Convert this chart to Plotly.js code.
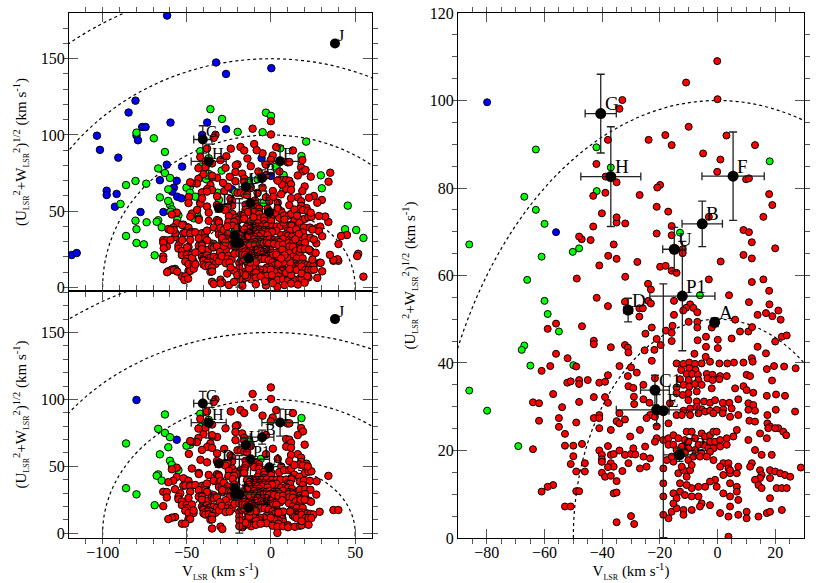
<!DOCTYPE html>
<html>
<head>
<meta charset="utf-8">
<script src="https://cdn.plot.ly/plotly-3.0.1.min.js"></script>
<style>
  html, body { margin: 0; padding: 0; background: #fff; }
  #plot { width: 830px; height: 583px; }
</style>
</head>
<body>
<div id="plot"></div>
<script>
// [V_LSR, (U^2+W^2)^1/2] in km/s
// sample shown in the lower-left and right panels
var sampleRed = [
  [-33.0,100.1],[-34.0,98.1],[-38.0,91.0],[-42.0,85.5],[-38.8,82.6],[-35.0,81.3],
  [-0.1,109.0],[-10.9,104.1],[0.0,100.3],[-10.0,94.0],[-23.9,91.0],[-18.1,92.1],[-15.9,89.8],[3.1,92.0],[13.0,89.8],[-5.0,87.9],[1.0,86.5],[-0.1,83.7],[9.9,82.0],[10.9,82.2],[-19.9,80.7],[-20.9,80.1],
  [17.9,78.6],[19.0,76.1],[15.9,73.4],[20.0,66.2],[9.0,70.4],[10.9,69.9],[11.9,67.6],[9.0,64.7],[11.9,63.9],[1.1,63.2],[-3.0,59.1],[15.9,59.1],[11.9,58.5],[17.9,56.5],[4.0,55.5],
  [-27.0,78.4],[-21.1,75.7],[-17.1,74.6],[-15.9,71.3],[-15.9,69.2],[-21.1,69.6],[-32.0,71.9],[-35.0,72.1],[-35.0,73.3],[-36.0,67.1],[-40.1,74.2],[-43.1,71.2],[-44.0,68.1],[-47.1,68.3],[-48.0,68.9],[-37.9,64.5],[-35.0,63.8],[-41.0,62.3],[-27.8,63.1],[-32.0,59.7],[-48.8,59.3],[-19.9,62.0],[-18.0,62.2],[-15.9,61.1],[-14.2,60.6],[-24.1,58.1],[-23.1,56.8],[-41.9,54.9],
  [-38.9,78.9],[-43.1,78.2],[-12.1,66.0],[-12.1,65.1],[-3.0,73.4],
  [-38.0,53.0],[-32.1,54.0],[-56.0,49.0],[-58.9,47.8],[-47.0,48.4],[-42.9,45.1],[-42.9,44.3],[-37.0,43.6],[-32.1,44.1],[-31.1,43.5],[-30.9,42.4],[-56.0,42.1],[-52.0,41.1],
  [-24.0,54.2],[-23.1,53.6],[-15.1,54.2],[-27.1,52.5],[-25.9,52.5],[-27.1,50.6],[-9.5,53.4],[-10.9,52.6],[-8.4,52.6],[-7.0,51.6],[-11.9,52.0],[-15.1,51.0],[-10.0,49.4],[-7.0,49.4],[-7.0,48.1],[-2.0,48.1],[6.1,49.9],[-17.9,47.4],[-15.6,48.5],[-22.8,48.1],[-25.0,46.7],[-21.1,45.5],[-19.7,44.1],[-15.9,46.9],[-15.9,45.0],[-6.9,45.2],[-4.0,46.0],[0.1,45.3],[0.1,43.4],[4.9,45.6],[7.8,47.2],[10.7,47.2],[12.0,48.2],[20.0,44.9],[22.3,46.0],[24.0,46.3],[13.9,43.7],[16.8,42.2],[11.9,41.1],[-25.3,42.9],[-21.9,43.0],[-4.0,43.7],[-4.1,41.4],[-8.0,42.1],[10.9,53.9],[18.0,53.4],[16.8,51.4],[21.1,52.0],[19.0,50.7],[21.9,49.9],[13.9,51.0],[27.1,38.8],
  [-58.0,39.3],[-61.0,38.2],[-49.0,39.2],[-52.1,35.5],[-50.9,35.8],[-48.0,36.1],[-48.0,35.2],[-45.0,36.1],[-41.0,35.5],[-39.0,35.7],[-38.0,37.2],[-34.0,39.3],[-31.1,37.0],[-30.0,39.0],[-30.9,34.7],[-29.2,34.3],[-57.0,32.9],[-64.0,31.0],[-61.9,30.8],[-53.9,29.9],[-48.0,31.1],[-42.9,32.2],[-39.0,32.2],[-38.0,30.9],[-28.9,30.6],[-61.9,26.8],[-55.0,27.4],[-55.0,25.4],[-49.0,26.4],[-42.9,27.4],[-41.0,28.1],[-41.0,27.4],
  [-41.0,25.1],[-37.0,24.7],[-34.0,28.5],[-35.0,26.7],[-34.0,26.2],[-32.1,27.1],[-52.9,23.8],[-64.0,20.3],[-52.9,21.1],[-50.0,21.1],[-47.0,21.5],[-50.0,18.7],[-50.9,16.9],[-49.0,15.2],[-46.0,15.2],[-46.0,17.1],
  [-41.0,20.0],[-40.1,19.0],[-38.0,21.0],[-37.0,19.0],[-36.0,19.2],[-34.0,20.0],[-32.1,19.0],[-30.0,19.2],[-28.5,19.1],
  [-40.1,18.0],[-40.1,17.4],[-37.0,17.1],[-36.0,16.3],[-38.0,16.2],[-40.1,14.9],[-39.0,14.0],[-37.0,14.2],[-33.0,15.3],[-30.9,17.1],[-35.0,13.0],[-57.0,12.1],[-58.9,11.7],[-61.0,10.6],[-49.0,10.7],[-48.0,10.7],[-36.0,10.2],[-35.0,10.4],[-52.9,7.2],[-50.9,7.2],[-35.0,3.6],[-30.0,5.0],[-28.9,3.2],
  [-22.8,40.5],[-14.2,39.9],[-11.8,39.8],[-9.8,40.1],[-7.8,39.8],[-5.5,39.9],[-2.6,40.3],[0.65,39.9],[3.4,39.9],[5.7,40.1],[9.0,40.1],[12.2,40.3],[17.1,38.6],[19.6,39.3],[23.1,39.2],
  [-12.6,38.4],[-9.8,38.8],[-7.6,38.4],[-10.7,37.5],[-8.8,37.5],[-6.8,37.3],[-3.75,37.5],[-1.7,37.3],[0.9,37.0],[3.2,37.0],[10.1,37.3],[11.3,37.0],[18.9,36.0],
  [-28.0,37.8],[-21.7,36.5],[-13.0,36.3],[-10.0,36.1],[-6.6,36.1],[-3.5,36.5],[-1.7,36.1],[0.65,36.3],[6.1,34.2],[9.0,34.7],[10.1,33.8],[12.4,33.2],
  [-25.7,35.0],[-14.2,34.4],[-11.8,35.0],[-9.8,34.6],[-7.8,35.2],[-5.5,35.0],[-2.0,34.2],[-7.2,33.5],[-10.1,33.1],[-12.1,32.7],[-14.2,33.1],[-25.7,31.7],[-23.6,30.9],[-16.5,30.8],[-10.1,31.5],[-7.2,31.2],[-4.7,31.2],[-2.6,30.9],[-0.86,31.5],[1.8,30.9],[4.1,30.9],[7.2,31.7],[10.7,30.8],[12.4,30.4],[17.1,32.5],[20.3,32.8],[23.4,32.5],[26.9,28.9],[4.9,29.6],[2.0,29.4],[-0.28,29.3],[-5.5,29.4],[-7.2,30.0],[-9.5,29.6],[-11.8,29.1],[-14.2,28.1],[-12.4,28.1],[-9.5,28.1],[-6.6,28.5],[-4.3,28.9],[-2.6,29.1],[-1.4,28.5],[1.8,28.5],[4.35,27.7],[7.2,28.1],[10.7,29.3],[13.0,29.1],[11.05,26.8],[13.0,26.6],[17.3,28.1],[20.2,29.3],[17.3,26.2],[18.2,25.5],[21.1,25.1],[22.8,24.3],[23.8,23.5],[-29.0,32.3],
  [-23.4,28.1],[-24.6,27.4],[-21.7,27.7],[-17.0,26.2],[-21.1,25.5],[-26.9,24.7],[-30.3,23.2],[-29.2,20.5],[-25.1,20.9],[-25.7,18.6],[-23.4,18.2],[-26.9,15.9],[-24.6,16.3],[-21.1,22.8],[-21.7,22.0],[-18.8,22.4],[-17.0,22.8],[-15.3,23.5],[-13.6,22.8],[-10.7,24.3],[-8.95,24.3],[-11.3,22.4],[-10.1,22.0],[-7.8,22.8],[-5.5,23.9],[-4.3,23.2],[-2.6,23.5],[-1.4,24.3],[-0.28,24.3],[-2.6,22.0],[-0.86,22.0],[0.9,22.4],[3.2,22.8],[5.5,23.2],[-6.6,21.3],[-4.9,21.3],[-3.2,20.5],[-1.4,20.5],[0.9,20.9],[3.2,21.3],[-7.8,20.1],[-5.5,19.4],[-2.6,19.7],[-12.4,20.9],[-10.1,20.5],[-11.3,19.4],[-8.4,18.6],[-6.1,18.6],[-3.75,18.6],[-1.4,17.8],[2.0,17.1],[3.8,17.1],[0.9,16.3],[3.8,15.9],[2.0,14.4],[4.35,14.8],[6.7,14.8],[-0.86,13.3],[-2.6,12.9],[4.35,12.5],[6.7,11.7],[6.7,10.6],[7.2,8.7],[4.35,9.5],[2.0,10.2],[-0.28,11.7],[-4.3,11.7],[-6.6,11.7],[-8.95,11.4],[-10.7,12.1],[-13.0,10.6],[-15.3,10.2],[-11.3,9.8],[-14.2,9.1],[-6.6,9.5],[-5.5,7.9],[-8.95,9.5],[-2.6,7.5],[4.35,7.2],[0.9,5.7],[3.8,4.9],[7.2,5.3],[10.1,6.0],[10.1,4.5],[14.2,4.9],[17.1,5.7],[18.2,6.0],[22.3,6.4],[-11.8,6.4],[-11.8,5.3],[-8.95,6.4],[-17.0,4.5],[-15.9,6.0],[-14.2,6.8],[-6.1,7.2],[-15.3,7.9],[-18.8,15.9],[-18.8,12.5],[-18.8,9.5],[-18.8,5.3],[-13.6,14.8],[-11.8,15.5],[-9.5,15.5],[-10.7,14.0],[-13.0,12.5],[-10.1,17.8],[-8.95,16.7],[-12.4,16.3],[-15.3,17.45],[-17.6,17.8],[-15.9,18.6],[-17.0,21.3],[-15.3,21.3],[-14.2,20.1],
  [6.7,24.7],[10.7,22.4],[14.75,23.9],[17.1,22.8],[17.6,25.1],[20.0,25.1],[13.0,20.1],[15.3,19.0],[18.8,19.0],[11.9,17.1],[14.75,15.5],[15.3,14.4],[14.75,13.7],[13.0,13.3],[14.2,12.1],[15.3,11.4],[18.2,15.5],[20.0,15.2],[21.7,14.8],[23.4,14.4],[25.2,14.0],[18.2,13.7],[20.5,11.4],[22.3,11.4],[24.0,11.4],[18.2,9.1],[28.9,16.1],[11.3,16.3],[7.2,16.3],[4.35,15.5],[3.8,0.3],
  [34.1,42.9],[37.1,17.4],[40.0,17.4]
];
var sampleGreen = [
  [-63.0,88.8],[-42.0,89.3],[-37.0,84.7],[18.1,86.1],[-41.9,79.3],[-13.0,69.8],[-48.0,66.2],[-50.2,65.4],[-6.1,55.5],
  [-67.0,78.0],[-63.0,75.0],[-60.0,71.8],[-86.1,67.1],[-61.0,64.3],[-66.0,59.0],[-60.0,54.2],[-58.9,51.2],[-55.0,47.2],
  [-67.0,44.0],[-67.9,43.0],[-64.9,39.4],[-50.0,39.5],[-86.1,33.7],[-79.9,29.1],[-69.1,21.0]
];
var sampleBlue = [[-79.9,99.6],[-56.0,69.9]];

// stars that appear only in the full sample (upper-left panel)
var extraRed = [
  [54.9,7.0],[51.8,22.0],[51.2,20.5],[45.1,34.3],[41.6,33.6],[40.1,28.4],[39.5,18.4],[37.1,18.0],[35.0,21.3],[35.2,75.2],[34.2,69.3],[32.2,46.4],[29.2,39.8],[30.2,57.3],
  [25.5,59.9],[27.5,55.5],[23.6,49.0],[28.5,46.8],[24.6,37.9],[28.5,36.8],[25.5,31.4],[30.4,33.5],[22.6,24.8],[26.5,22.6],[24.6,18.2],[29.5,16.1],
  [25.5,11.6],[30.4,10.5],[21.6,7.3],[27.5,6.2],[18.6,63.2],[22.6,58.8],[20.5,77.0],[23.6,72.6],[18.6,83.5],
  [-64.0,29.3],[-63.7,25.6],[-64.0,18.4],[-61.7,9.9],[-57.7,11.4],[-55.7,10.3],[-51.4,4.8],[-49.2,5.7],[-45.9,12.2],[-44.9,15.1],[-46.9,19.4],[-44.9,22.9],
  [-49.9,26.2],[-52.8,31.1],[-56.8,35.5],[-57.7,37.6],[-59.7,31.1],[-59.7,37.6],[-52.8,40.9],[-47.9,46.4],[-43.9,50.8],[-41.0,58.4],[-38.0,62.8],[-49.0,55.3],[-37.0,49.0],
  [-30.0,2.6],[-34.0,2.2],[-25.0,1.5],[-22.0,3.5],[-17.0,1.0],[-9.0,2.0],[-3.0,1.2],[1.0,2.8],[8.0,1.5],[12.0,2.5],[16.0,1.8],[20.0,3.0],
  [-26.0,9.0],[-22.0,11.0],[-24.0,13.0],[-20.0,8.0],[-3.5,4.0],[0.5,8.0],[9.0,9.5],[12.0,8.0],[11.0,12.0],[9.5,19.5],[8.0,21.0],[6.0,19.0],
  [-28.0,27.0],[-27.0,29.5],[-19.5,33.0],[-18.0,36.5],[-16.0,38.0],[-20.0,39.0],[-26.0,40.0],[-12.0,43.5],[-10.5,46.0],[-13.5,49.5],[-2.0,51.5],[2.5,49.0],[4.0,52.0],
  [7.5,42.5],[8.0,44.5],[15.5,47.0],[15.0,38.0],[16.5,35.0],[14.5,31.5],[-1.0,56.5],[1.5,59.5],[6.0,61.0],[6.5,67.5],[4.0,70.0],[-8.0,62.0],[-9.5,57.0],
  [-5.0,65.5],[-7.5,76.0],[-12.0,79.5],[-3.0,80.5],[5.0,76.0],[-25.5,66.0],[-28.5,68.5],[-24.5,72.5],[-30.0,83.5],[-26.5,86.0],[-14.0,84.5],[-8.5,90.0]
];
var extraGreen = [
  [-36.0,116.9],[-29.1,110.5],[-3.0,114.6],[0.0,112.5],[-19.8,102.0],[-5.0,101.8],[-79.9,101.5],[-69.6,97.8],[20.9,95.6],[5.5,91.2],
  [-29.3,76.6],[-37.0,74.4],[-41.5,72.0],[-38.5,70.9],[-42.1,55.5],[-31.7,62.1],[-30.9,57.3],[-7.9,70.9],[-2.8,73.7],[2.8,79.2],[-4.4,55.5],
  [7.5,73.7],[29.6,73.5],[30.2,65.0],[45.6,53.6],[44.0,38.1],[50.6,37.6],[54.9,32.4],[7.3,63.4],[-21.2,62.4],
  [-80.5,69.8],[-74.1,68.0],[-89.4,54.7],[-80.5,43.7],[-79.9,38.1],[-73.9,42.7],[-75.5,28.2],[-61.1,56.7],[-59.7,49.6],[-55.7,44.2],
  [-48.2,62.1],[-44.9,59.5],[-45.9,45.3],[-43.9,47.5],[-46.2,36.1]
];
var extraBlue = [
  [-61.7,178.3],[-32.6,147.5],[-26.7,140.0],[0.2,143.8],[-80.5,122.5],[-84.6,114.7],[-103.4,99.5],[-101.6,90.2],[-79.0,96.5],[-90.7,85.1],
  [-76.5,105.2],[-74.5,105.2],[-59.7,108.1],[-40.9,100.0],[-37.9,108.1],[-26.7,103.7],[-61.9,80.5],[-52.8,79.2],[-66.0,70.3],
  [-57.7,65.4],[-58.7,62.8],[-55.7,59.5],[-53.2,58.4],[-97.6,63.4],[-97.6,60.6],[-91.7,61.3],[-92.7,52.9],[-77.5,49.4],
  [-118.4,21.2],[-115.4,22.5],[-63.9,49.4],[0.0,73.1],[-5.6,84.7],[-23.1,64.3]
];

// moving groups: name, V, (U^2+W^2)^1/2, errors
var groupNames = ['G', 'H', 'F', 'B', 'U', 'P1', 'D', 'A', 'C1', '', 'E', 'C2', 'J'];
var groupV     = [-40.5, -37.0, 5.4, -5.3, -15.0, -12.2, -31.0, -1.0, -21.7, -21.1, -18.8, -13.2, 38.0];
var groupY     = [97.0, 82.6, 82.7, 71.8, 66.0, 55.3, 52.1, 49.3, 33.8, 29.3, 29.1, 19.0, 160.0];
var groupErrV  = [5.4, 10.4, 10.8, 7.0, 4.0, 11.3, 1.5, 1.0, 5.0, 14.0, 2.0, 5.5, 0];
var groupErrY  = [9.0, 11.4, 10.1, 5.2, 5.0, 12.5, 2.7, 1.0, 3.4, 3.5, 29.0, 1.5, 0];

var circleRadii = [50, 100, 150, 200];

var FONT = '"Liberation Serif", "Times New Roman", serif';
var col = function (pts, k) { return pts.map(function (p) { return p[k]; }); };

function stars(pts, color, xa, ya, size) {
  return {
    x: col(pts, 0), y: col(pts, 1), xaxis: xa, yaxis: ya,
    mode: 'markers', type: 'scatter', hoverinfo: 'skip',
    marker: { color: color, size: size, line: { color: 'black', width: 1 } }
  };
}

function groups(xa, ya, size) {
  return {
    x: groupV, y: groupY, xaxis: xa, yaxis: ya,
    mode: 'markers', type: 'scatter', hoverinfo: 'skip',
    marker: { color: 'black', size: size },
    error_x: { type: 'data', array: groupErrV, color: '#222', thickness: 1.3, width: 4 },
    error_y: { type: 'data', array: groupErrY, color: '#222', thickness: 1.3, width: 4 }
  };
}

var allRed = sampleRed.concat(extraRed);
var allGreen = sampleGreen.concat(extraGreen);
var allBlue = sampleBlue.concat(extraBlue);

var data = [
  stars(allBlue, '#0000ff', 'x', 'y', 7.5),
  stars(allGreen, '#00ff00', 'x', 'y', 7.5),
  stars(allRed, '#ff0000', 'x', 'y', 7.5),
  groups('x', 'y', 10),
  stars(sampleBlue, '#0000ff', 'x2', 'y2', 7.5),
  stars(sampleGreen, '#00ff00', 'x2', 'y2', 7.5),
  stars(sampleRed, '#ff0000', 'x2', 'y2', 7.5),
  groups('x2', 'y2', 10),
  stars(sampleBlue, '#0000ff', 'x3', 'y3', 7),
  stars(sampleGreen, '#00ff00', 'x3', 'y3', 7),
  stars(sampleRed, '#ff0000', 'x3', 'y3', 7),
  groups('x3', 'y3', 11)
];

var shapes = [];
var annotations = [];
[['x', 'y', 16, 1, 8], ['x2', 'y2', 16, 1, 8], ['x3', 'y3', 19, 2, 10]].forEach(function (p) {
  circleRadii.forEach(function (r) {
    shapes.push({ type: 'circle', xref: p[0], yref: p[1], x0: -r, x1: r, y0: -r, y1: r,
      layer: 'below', line: { color: 'black', width: 1.2, dash: 'dot' } });
  });
  groupNames.forEach(function (name, i) {
    if (!name) return;
    annotations.push({ xref: p[0], yref: p[1], x: groupV[i], y: groupY[i], text: name,
      showarrow: false, xanchor: 'left', yanchor: 'middle', xshift: p[3], yshift: p[4],
      font: { family: FONT, size: p[2], color: 'black' } });
  });
});

function axis(extra) {
  var a = {
    showline: true, linecolor: 'black', linewidth: 1, mirror: 'allticks',
    ticks: 'inside', ticklen: 9, tickcolor: '#555', tickwidth: 1,
    showgrid: false, zeroline: false, fixedrange: true,
    tickfont: { family: FONT, size: 16, color: 'black' }
  };
  for (var k in extra) a[k] = extra[k];
  return a;
}

var LSR = '<sub><span style="font-size:8px">LSR</span></sub>';
var yTitle = '(U' + LSR + '<sup>2</sup>+W' + LSR + '<sup>2</sup>)<sup>1/2</sup> (km s<sup>-1</sup>)';
var xTitle = 'V' + LSR + ' (km s<sup>-1</sup>)';
var tfont = { family: FONT, size: 15, color: 'black' };

var layout = {
  width: 830, height: 583,
  margin: { l: 0, r: 0, t: 0, b: 0 },
  paper_bgcolor: 'white', plot_bgcolor: 'white',
  showlegend: false,
  font: { family: FONT },
  xaxis: axis({ domain: [0.0831, 0.4482], range: [-120, 60], anchor: 'y', dtick: 50, showticklabels: false,
    minor: { dtick: 10, ticklen: 5, tickcolor: '#555' } }),
  yaxis: axis({ domain: [0.5009, 0.9777], range: [-2.4, 180], anchor: 'x', dtick: 50,
    minor: { dtick: 10, ticklen: 5, tickcolor: '#555' },
    title: { text: yTitle, font: tfont, standoff: 10 } }),
  xaxis2: axis({ domain: [0.0831, 0.4482], range: [-120, 60], anchor: 'y2', dtick: 50,
    minor: { dtick: 10, ticklen: 5, tickcolor: '#555' },
    title: { text: xTitle, font: tfont, standoff: 5 } }),
  yaxis2: axis({ domain: [0.0772, 0.5009], range: [-3.5, 181], anchor: 'x2', dtick: 50,
    minor: { dtick: 10, ticklen: 5, tickcolor: '#555' },
    title: { text: yTitle, font: tfont, standoff: 10 } }),
  xaxis3: axis({ domain: [0.5518, 0.9687], range: [-90, 30], anchor: 'y3', dtick: 20,
    minor: { dtick: 5, ticklen: 5, tickcolor: '#555' },
    title: { text: xTitle, font: tfont, standoff: 5 } }),
  yaxis3: axis({ domain: [0.0772, 0.9777], range: [0, 120], anchor: 'x3', dtick: 20,
    minor: { dtick: 5, ticklen: 5, tickcolor: '#555' },
    title: { text: yTitle, font: tfont, standoff: 10 } }),
  shapes: shapes,
  annotations: annotations
};

Plotly.newPlot('plot', data, layout, { displayModeBar: false, staticPlot: true });
</script>
</body>
</html>
